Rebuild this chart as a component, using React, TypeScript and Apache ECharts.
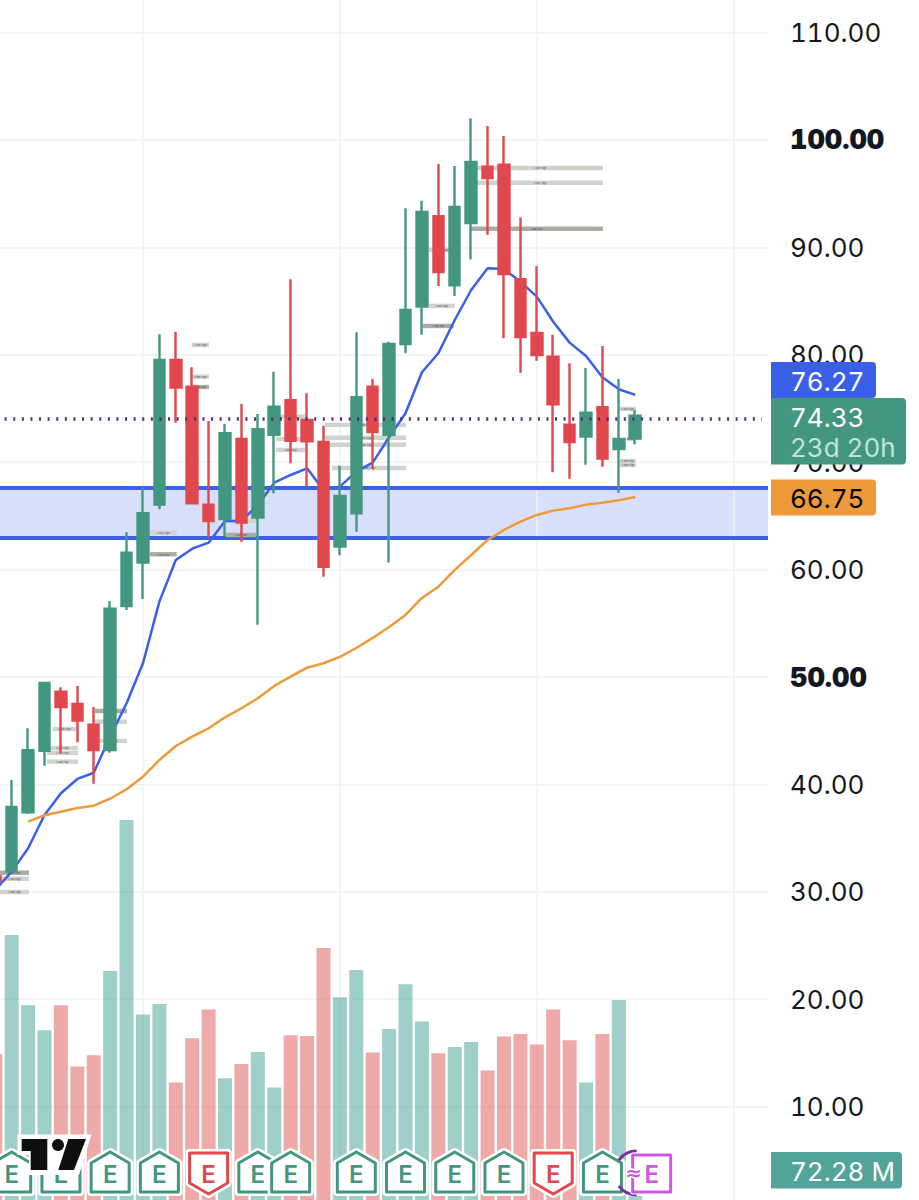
import React, { useEffect, useRef } from 'react';
import * as echarts from 'echarts';

// monthly bars, first entry is the one cut off at the left edge (index -1)
const opens = [31.45, 31.88, 37.41, 43.14, 48.64, 47.49, 45.56, 43.21, 56.61, 60.65, 66.05, 79.52, 77.03, 66.05, 64.71, 72.16, 64.84, 72.54, 75.77, 73.93, 71.88, 62.14, 65.25, 77.03, 72.54, 81.01, 84.48, 92.9, 86.47, 92.27, 97.52, 97.7, 87.03, 82.03, 79.82, 73.49, 72.38, 75.11, 71.23, 72.19];
const closes = [31.0, 37.9, 43.18, 49.45, 47.21, 45.94, 43.21, 56.36, 61.58, 65.25, 79.52, 76.94, 66.18, 64.53, 72.69, 64.37, 73.07, 75.17, 72.0, 71.95, 60.27, 66.86, 76.04, 72.81, 81.01, 84.17, 93.3, 87.71, 93.76, 97.95, 96.46, 87.52, 81.66, 79.98, 75.39, 71.88, 74.61, 70.33, 72.16, 74.33];
const lows = [30.8, 31.85, 37.25, 41.75, 42.96, 43.93, 40.07, 42.96, 56.24, 57.27, 65.62, 73.68, 66.08, 62.97, 63.07, 62.6, 54.87, 67.11, 69.9, 67.72, 59.34, 61.33, 63.53, 69.4, 60.65, 80.14, 81.87, 86.41, 85.48, 88.86, 91.18, 81.54, 78.33, 79.45, 69.06, 68.47, 69.77, 69.58, 67.16, 71.67];
const highs = [31.6, 40.41, 45.23, 49.45, 49.05, 49.17, 47.21, 57.08, 63.48, 67.69, 81.91, 82.15, 78.84, 73.84, 73.56, 75.42, 74.49, 78.43, 87.03, 76.42, 73.4, 69.68, 82.1, 77.75, 81.22, 93.64, 94.35, 97.77, 97.58, 102.02, 101.3, 100.37, 92.77, 88.24, 81.87, 79.21, 78.77, 80.82, 77.75, 74.86];
const volumes = [640, 1116, 835, 735, 835, 590, 635, 972, 1576, 798, 840, 526, 703, 818, 543, 600, 648, 506, 715, 712, 1064, 867, 976, 646, 740, 919, 770, 643, 668, 688, 574, 710, 720, 678, 818, 695, 526, 720, 856, 72.28];
const fastMa = [30.17, 31.88, 34.06, 37.16, 39.18, 40.51, 41.09, 44.45, 47.56, 51.28, 57.02, 60.9, 61.95, 62.51, 64.53, 64.53, 66.02, 68.09, 68.81, 69.43, 67.41, 67.72, 69.12, 69.96, 72.32, 74.56, 78.37, 80.14, 83.24, 86.03, 88.06, 87.99, 86.81, 85.41, 83.08, 81.13, 79.89, 77.91, 76.79, 76.27];
// starts at bar index 1
const slowMa = [36.53, 37.13, 37.46, 37.81, 38.02, 38.67, 39.55, 40.72, 42.28, 43.58, 44.45, 45.23, 46.25, 47.09, 48.02, 49.17, 50.03, 50.87, 51.28, 51.87, 52.7, 53.64, 54.66, 55.78, 57.36, 58.41, 59.97, 61.36, 62.76, 63.69, 64.46, 65.09, 65.49, 65.71, 66.05, 66.23, 66.46, 66.75];

const priceTicks = [10, 20, 30, 40, 50, 60, 70, 80, 90, 100, 110];
const yearLines = [8, 20, 32, 44];
const zoneTop = 67.6;
const zoneBottom = 63.01;
const lastPrice = 74.09;

// start bar, end bar, price, kind (0 light, 1 green-grey, 2 dark)
const levelBoxes = [
  [-0.71, 1.05, 31.78, 2], [-0.71, 1.05, 31.22, 0], [-0.71, 1.05, 29.99, 0],
  [2.15, 4.04, 43.39, 0], [2.15, 4.04, 42.93, 0], [2.15, 4.04, 42.12, 0], [2.5, 3.92, 45.16, 0],
  [5.08, 7.03, 46.84, 2], [5.08, 7.03, 45.84, 0], [5.08, 7.03, 44.05, 0],
  [8.43, 10.05, 63.44, 0], [8.43, 10.05, 61.43, 2],
  [10.97, 12.02, 80.91, 0], [10.97, 12.02, 77.96, 0], [10.97, 12.02, 77.0, 2],
  [13.06, 14.89, 64.53, 0], [13.06, 14.89, 63.22, 2],
  [16.1, 17.87, 74.24, 1], [16.1, 17.87, 72.16, 0], [16.1, 17.87, 71.14, 0],
  [19.09, 24.03, 73.47, 1], [19.09, 24.03, 72.28, 0], [19.09, 24.03, 71.62, 0], [19.52, 24.03, 69.46, 0],
  [25.41, 27.0, 89.76, 0], [25.41, 27.0, 84.55, 0], [25.05, 26.95, 82.68, 2],
  [28.36, 36.03, 97.39, 1], [28.36, 36.03, 96.02, 0], [27.93, 36.03, 91.74, 2],
  [37.01, 38.04, 74.96, 0], [37.5, 37.92, 72.16, 0], [37.07, 38.04, 70.11, 0], [37.07, 38.04, 69.74, 0],
];

// earnings flags: bar index, kind (0 beat, 1 miss, 2 upcoming)
const earnings = [
  [0, 0], [3, 0], [6, 0], [9, 0], [12, 1], [15, 0], [17, 0], [21, 0],
  [24, 0], [27, 0], [30, 0], [33, 1], [36, 0], [39, 2],
];

const GREEN = '#439780';
const RED = '#e0484d';
const BLUE = '#3a60e8';
const ORANGE = '#ef9a3a';
const GRID = '#f1f2f4';
const FONT = 'Inter';

const pxRect = (x: number, y: number, w: number, h: number, fill: string) => ({
  type: 'rect', z: 100, silent: true,
  shape: { x, y, width: w, height: h, r: [0, 4, 4, 0] },
  style: { fill },
});

const pxText = (text: string, y: number, fill: string) => ({
  type: 'text', z: 101, silent: true, x: 790, y,
  style: { text, fill, fontFamily: FONT, fontSize: 26, verticalAlign: 'middle', align: 'left' },
});

const renderLevelBox = (params: any, api: any) => {
  const box = levelBoxes[params.dataIndex];
  const a = api.coord([box[0], box[2]]);
  const b = api.coord([box[1], box[2]]);
  const fills = ['#d2d2ce', '#cfd4ca', '#abaca2'];
  return {
    type: 'group',
    children: [
      {
        type: 'rect',
        shape: { x: a[0], y: a[1] - 2.2, width: b[0] - a[0], height: 4.4 },
        style: { fill: fills[box[3]] },
      },
      {
        type: 'text',
        x: (a[0] + b[0]) / 2,
        y: a[1],
        style: {
          text: box[3] === 2 ? '1 day low' : '1 day high',
          fontFamily: FONT, fontSize: 2.6, fill: '#55554f', align: 'center', verticalAlign: 'middle',
        },
      },
    ],
  };
};

const renderEarnings = (params: any, api: any) => {
  const cx = api.coord([api.value(0), 0])[0];
  const kind = api.value(1);
  const color = [GREEN, RED, '#cf55e6'][kind];
  let outline;
  if (kind === 0) {
    outline = [[cx, 1152], [cx + 19, 1163], [cx + 19, 1192], [cx - 19, 1192], [cx - 19, 1163]];
  } else if (kind === 1) {
    outline = [[cx - 19, 1153], [cx + 19, 1153], [cx + 19, 1183], [cx, 1194], [cx - 19, 1183]];
  } else {
    outline = [[cx - 19, 1155], [cx + 19, 1155], [cx + 19, 1192], [cx - 19, 1192]];
  }
  const children: any[] = [];
  if (kind === 2) {
    // the split marker peeking out behind the upcoming flag
    const arcStyle = { fill: 'none', stroke: '#7c2c9e', lineWidth: 3 };
    children.push(
      { type: 'arc', shape: { cx: cx - 15, cy: 1173, r: 22, startAngle: Math.PI * 1.2, endAngle: Math.PI * 1.5 }, style: arcStyle },
      { type: 'arc', shape: { cx: cx - 15, cy: 1173, r: 22, startAngle: Math.PI * 0.5, endAngle: Math.PI * 0.8 }, style: arcStyle },
    );
  }
  children.push(
    { type: 'polygon', shape: { points: outline }, style: { fill: '#fff', stroke: '#fff', lineWidth: kind === 2 ? 5 : 8, lineJoin: 'round' } },
    { type: 'polygon', shape: { points: outline }, style: { fill: '#fff', stroke: color, lineWidth: 3, lineJoin: 'round' } },
    {
      type: 'text', x: cx, y: 1174,
      style: { text: 'E', fontFamily: FONT, fontWeight: 600, fontSize: 24, fill: color, align: 'center', verticalAlign: 'middle' },
    },
  );
  if (kind === 2) {
    children.push({
      type: 'text', x: cx - 18, y: 1173,
      style: {
        text: '≈', fontFamily: 'DejaVu Sans', fontWeight: 700, fontSize: 20, fill: color,
        stroke: '#fff', lineWidth: 3, align: 'center', verticalAlign: 'middle',
      },
    });
  }
  return { type: 'group', children };
};

const App = () => {
  const chartRef = useRef<HTMLDivElement>(null);

  useEffect(() => {
    const chart = echarts.init(chartRef.current, null, { renderer: 'svg' });

    const bars = opens.map((_, i) => i - 1);
    const options = {
      animation: false,
      backgroundColor: '#fff',
      grid: { left: 0, right: 151, top: 0, bottom: 0 },
      xAxis: {
        type: 'value', min: -0.713, max: 46.09,
        axisLine: { show: false }, axisTick: { show: false }, axisLabel: { show: false }, splitLine: { show: false },
      },
      yAxis: [
        {
          type: 'value', position: 'right', min: 1.31, max: 113.03,
          axisLine: { show: false },
          axisTick: { show: false, customValues: priceTicks },
          splitLine: { lineStyle: { color: GRID, width: 1.5 } },
          axisLabel: {
            customValues: priceTicks,
            margin: 22,
            formatter: (v: number) => (v === 100 || v === 50 ? `{b|${v.toFixed(2)}}` : `{n|${v.toFixed(2)}}`),
            rich: {
              n: { fontFamily: FONT, fontSize: 26, color: '#131722' },
              b: { fontFamily: FONT, fontSize: 27, fontWeight: 900, color: '#131722' },
            },
          },
        },
        // zero of the volume scale sits below the bottom of the page
        { type: 'value', min: 56.4, max: 4856.4, show: false, splitLine: { show: false } },
      ],
      series: [
        {
          // holds the zone and the vertical year lines
          type: 'line', data: [], z: 1, silent: true,
          markArea: {
            silent: true, z: 1,
            itemStyle: { color: 'rgba(58,96,232,0.2)' },
            data: [[{ yAxis: zoneTop }, { yAxis: zoneBottom }]],
          },
          markLine: {
            silent: true, z: 1, symbol: 'none', label: { show: false },
            lineStyle: { color: GRID, width: 1.5, type: 'solid' },
            data: yearLines.map((x) => ({ xAxis: x })),
          },
        },
        {
          type: 'line', data: [], z: 2, silent: true,
          markLine: {
            silent: true, z: 2, symbol: 'none', label: { show: false },
            lineStyle: { color: BLUE, width: 4, type: 'solid' },
            data: [{ yAxis: zoneTop }, { yAxis: zoneBottom }],
          },
        },
        {
          type: 'bar', yAxisIndex: 1, barWidth: 14, z: 2, silent: true,
          data: volumes.map((v, i) => ({
            value: [bars[i], v],
            itemStyle: { color: closes[i] >= opens[i] ? 'rgba(63,160,150,0.5)' : 'rgba(221,85,83,0.5)' },
          })),
        },
        {
          type: 'custom', z: 3, silent: true, clip: true,
          renderItem: renderLevelBox,
          encode: { x: [0, 1], y: 2 },
          data: levelBoxes.map((b) => [b[0], b[1], b[2]]),
        },
        {
          type: 'line', z: 4, symbol: 'none', silent: true,
          lineStyle: { color: BLUE, width: 2.5 },
          data: fastMa.map((v, i) => [bars[i], v]),
        },
        {
          type: 'line', z: 4, symbol: 'none', silent: true,
          lineStyle: { color: ORANGE, width: 2.5 },
          data: slowMa.map((v, i) => [i + 1, v]),
        },
        {
          type: 'candlestick', z: 5, barWidth: 11, silent: true,
          itemStyle: { color: GREEN, color0: RED, borderColor: GREEN, borderColor0: RED, borderWidth: 2.4 },
          data: opens.map((o, i) => [bars[i], o, closes[i], lows[i], highs[i]]),
        },
        {
          type: 'custom', z: 6, silent: true, clip: false,
          renderItem: renderEarnings,
          encode: { x: 0 },
          data: earnings,
        },
        {
          type: 'line', data: [], z: 7, silent: true,
          markLine: {
            silent: true, z: 7, symbol: 'none', label: { show: false },
            lineStyle: { color: '#5a2a7c', width: 3.5, type: [2, 6.6] },
            data: [[{ coord: [-0.43, lastPrice] }, { coord: [45.72, lastPrice] }]],
          },
        },
      ],
      graphic: [
        pxRect(771, 362, 105, 36, BLUE),
        pxText('76.27', 381, '#fff'),
        pxRect(771, 398, 135, 66.5, GREEN),
        pxText('74.33', 417, '#fff'),
        pxText('23d 20h', 447.5, '#c1e4da'),
        pxRect(771, 479.5, 105, 36, ORANGE),
        pxText('66.75', 498, '#000'),
        pxRect(771, 1152, 131, 36.5, '#52a49a'),
        pxText('72.28 M', 1171, '#fff'),
        // TradingView mark
        {
          type: 'group', z: 100, silent: true,
          children: [
            { type: 'polygon', z: 100, shape: { points: [[17.5, 1134.5], [91.5, 1134.5], [79, 1175], [29, 1175], [29, 1155], [17.5, 1155]] }, style: { fill: '#fff' } },
            { type: 'polygon', z: 101, shape: { points: [[21.7, 1139], [47.3, 1139], [47.3, 1170], [30.7, 1170], [30.7, 1151], [21.7, 1151]] }, style: { fill: '#0f0f0f' } },
            { type: 'circle', z: 101, shape: { cx: 58, cy: 1145, r: 6 }, style: { fill: '#0f0f0f' } },
            { type: 'polygon', z: 101, shape: { points: [[68.3, 1139], [86, 1139], [74, 1170], [58.3, 1170]] }, style: { fill: '#0f0f0f' } },
          ],
        },
      ],
    };

    chart.setOption(options as any);

    return () => {
      chart.dispose();
    };
  }, []);

  return (
    <>
      <style>{'#price-chart text{font-feature-settings:"tnum" 1 !important}'}</style>
      <div
        id="price-chart"
        ref={chartRef}
        style={{ position: 'absolute', left: 0, top: 0, width: 919, height: 1200 }}
      />
    </>
  );
};

export default App;
